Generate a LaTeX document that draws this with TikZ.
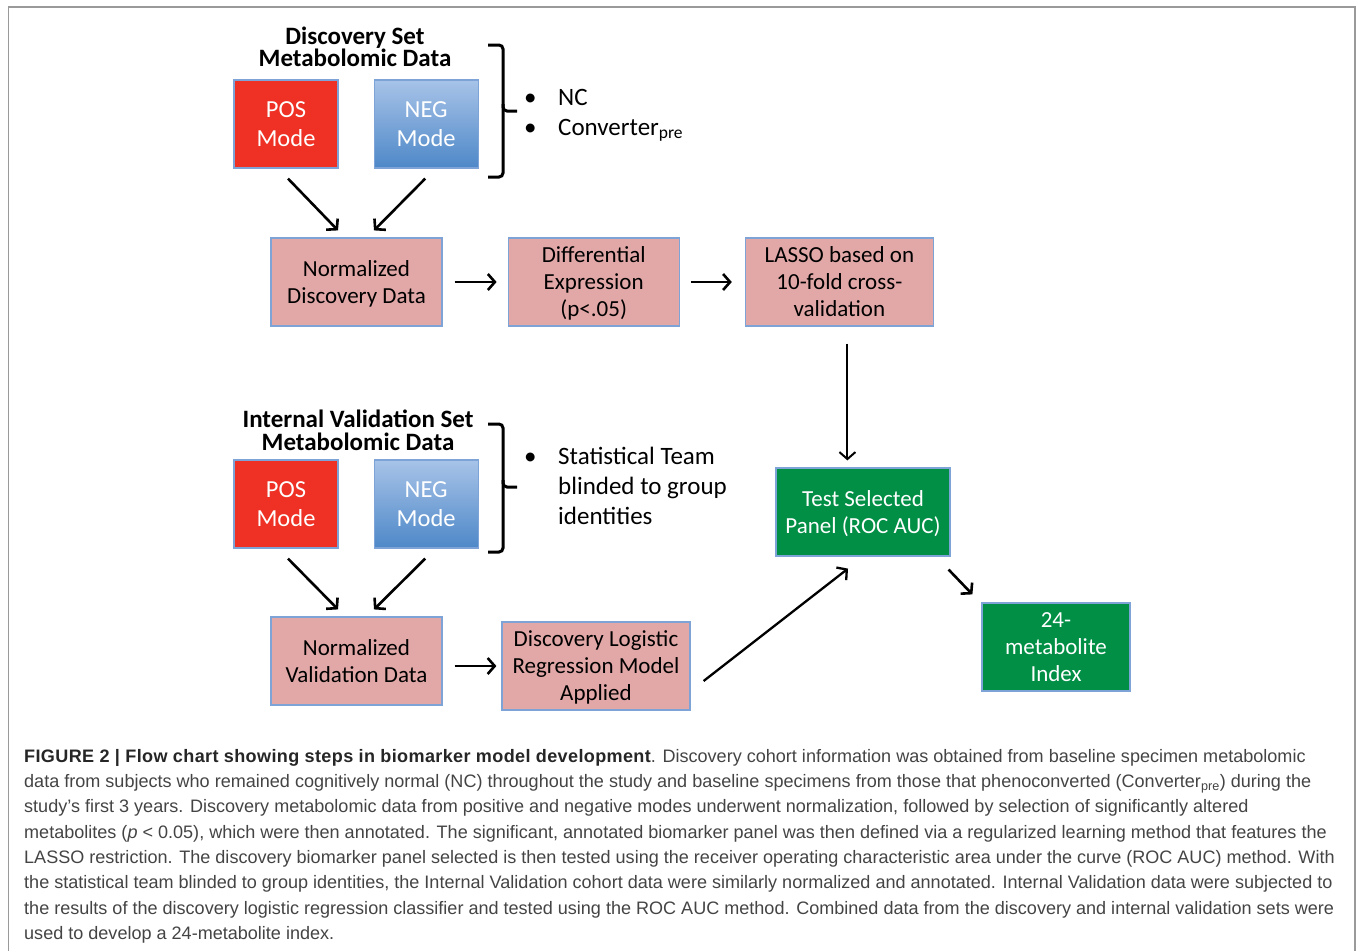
\documentclass[tikz,border=0pt]{standalone}
\usepackage{fontspec}
\setmainfont{Carlito}
\newfontfamily\capfont{Liberation Sans}
\usepackage{tikz}
\usetikzlibrary{positioning, arrows.meta, calc}
\definecolor{posred}{HTML}{EE3124}
\definecolor{negtop}{HTML}{A7C3E8}
\definecolor{negbot}{HTML}{4E88C8}
\definecolor{stepred}{HTML}{E2A8A7}
\definecolor{panelgreen}{HTML}{008F45}
\definecolor{edgeblue}{HTML}{7EA4D7}
\definecolor{framegray}{HTML}{9A9A9A}
\definecolor{captext}{HTML}{444444}

\begin{document}
\begin{tikzpicture}[x=1pt, y=-1pt,
  box/.style={rectangle, draw=edgeblue, line width=1.2pt, minimum height=88pt, align=center, inner sep=2pt, text depth=0pt, font=\fontsize{23}{27}\selectfont},
  stepbox/.style={box, fill=stepred, minimum width=171pt},
  modebox/.style={box, minimum width=104pt, text=white, font=\fontsize{24.5}{29}\selectfont},
  negbox/.style={modebox, top color=negtop, bottom color=negbot},
  panelbox/.style={box, fill=panelgreen, text=white},
  settitle/.style={align=center, inner sep=0pt, font=\fontsize{25}{22.5}\selectfont\bfseries},
  bullet/.style={inner sep=0pt, font=\fontsize{25}{30}\selectfont},
  arrow/.style={-{Straight Barb[length=7pt,width=16pt]}, line width=2.6pt},
  bracket/.style={line width=3pt, rounded corners=4pt}
]
  \useasboundingbox (0,0) rectangle (1357,951);
  \draw[framegray, line width=1.5pt] (8.3,951) -- (8.3,7) -- (1355,7) -- (1355,951);

  % discovery set
  \node[settitle] (disctitle) at (355,47) {Discovery Set\\Metabolomic Data};
  \node[modebox, fill=posred] (pos1) at (286,124) {POS\\Mode};
  \node[negbox, right=35pt of pos1] (neg1) {NEG\\Mode};
  \draw[bracket] (488,45) -- (503,45) -- (503,111) -- (517,111);
  \draw[bracket] (503,104) -- (503,177) -- (488,177);
  \node[bullet, anchor=base west] (nc) at (524,105) {\makebox[34pt][l]{\textbullet}NC};
  \node[bullet, anchor=base west] (conv) at (524,135) {\makebox[34pt][l]{\textbullet}Converter\textsubscript{pre}};

  \node[stepbox] (normdisc) at (356.5,282) {Normalized\\Discovery Data};
  \node[stepbox, right=65pt of normdisc] (diffexp) {Differential\\Expression\\(p<.05)};
  \node[stepbox, minimum width=188pt, right=65pt of diffexp] (lasso) {LASSO based on\\10-fold cross-\\validation};
  \node[panelbox, minimum width=174pt] (testpanel) at (863,512) {Test Selected\\Panel (ROC AUC)};
  \node[panelbox, minimum width=148pt] (index) at (1056,647) {24-\\metabolite\\Index};

  % validation set
  \node[settitle] (valtitle) at (358,430.5) {Internal Validation Set\\Metabolomic Data};
  \node[modebox, fill=posred] (pos2) at (286,504) {POS\\Mode};
  \node[negbox, right=35pt of pos2] (neg2) {NEG\\Mode};
  \draw[bracket] (488,424) -- (503,424) -- (503,487) -- (517,487);
  \draw[bracket] (503,480) -- (503,552) -- (488,552);
  \node[bullet, anchor=north west, align=left] (blind) at (524,447)
    {\makebox[34pt][l]{\textbullet}Statistical Team\\\hspace*{34pt}blinded to group\\\hspace*{34pt}identities};

  \node[stepbox] (normval) at (356.5,661) {Normalized\\Validation Data};
  \node[stepbox, minimum width=188pt] (logreg) at (596,666) {Discovery Logistic\\Regression Model\\Applied};

  % connectors
  \draw[arrow] ([xshift=2pt,yshift=-10pt]pos1.south) -- ([xshift=-18.5pt,yshift=7pt]normdisc.north);
  \draw[arrow] ([xshift=-1pt,yshift=-10pt]neg1.south) -- ([xshift=17.5pt,yshift=7pt]normdisc.north);
  \draw[arrow] ([xshift=12pt]normdisc.east) -- ([xshift=-11pt]diffexp.west);
  \draw[arrow] ([xshift=11pt]diffexp.east) -- ([xshift=-13pt]lasso.west);
  \coordinate (lassoout) at ([xshift=8pt,yshift=-17pt]lasso.south);
  \draw[arrow, line width=2pt] (lassoout) -- ($(lassoout |- testpanel.north)+(0,-7)$);
  \draw[arrow] ([xshift=-2pt,yshift=-13pt]testpanel.south east) -- ([xshift=-9pt,yshift=8pt]index.north west);
  \draw[arrow] ([xshift=2pt,yshift=-10pt]pos2.south) -- ([xshift=-18.5pt,yshift=7pt]normval.north);
  \draw[arrow] ([xshift=-1pt,yshift=-10pt]neg2.south) -- ([xshift=17.5pt,yshift=7pt]normval.north);
  \draw[arrow] ([xshift=12pt,yshift=-5pt]normval.east) -- ([xshift=-5pt]logreg.west);
  \draw[arrow, line width=2.3pt] ([xshift=13pt,yshift=-15pt]logreg.east) -- ([xshift=-15pt,yshift=-12pt]testpanel.south);

  % caption
  \node[anchor=north west, inner sep=0pt, align=left, text=captext, font=\capfont\fontsize{18.05}{25.3}\selectfont] (caption) at (24,749)
    {{\bfseries\color{black!85}\addfontfeature{LetterSpace=2}FIGURE 2 | Flow chart showing steps in biomarker model development}. Discovery cohort information was obtained from baseline specimen metabolomic\\
     data from subjects who remained cognitively normal (NC) throughout the study and baseline specimens from those that phenoconverted (Converter\textsubscript{pre}) during the\\
     study’s first 3 years. Discovery metabolomic data from positive and negative modes underwent normalization, followed by selection of significantly altered\\
     metabolites (\textit{p} < 0.05), which were then annotated. The significant, annotated biomarker panel was then defined via a regularized learning method that features the\\
     LASSO restriction. The discovery biomarker panel selected is then tested using the receiver operating characteristic area under the curve (ROC AUC) method. With\\
     the statistical team blinded to group identities, the Internal Validation cohort data were similarly normalized and annotated. Internal Validation data were subjected to\\
     the results of the discovery logistic regression classifier and tested using the ROC AUC method. Combined data from the discovery and internal validation sets were\\
     used to develop a 24-metabolite index.};
\end{tikzpicture}
\end{document}
